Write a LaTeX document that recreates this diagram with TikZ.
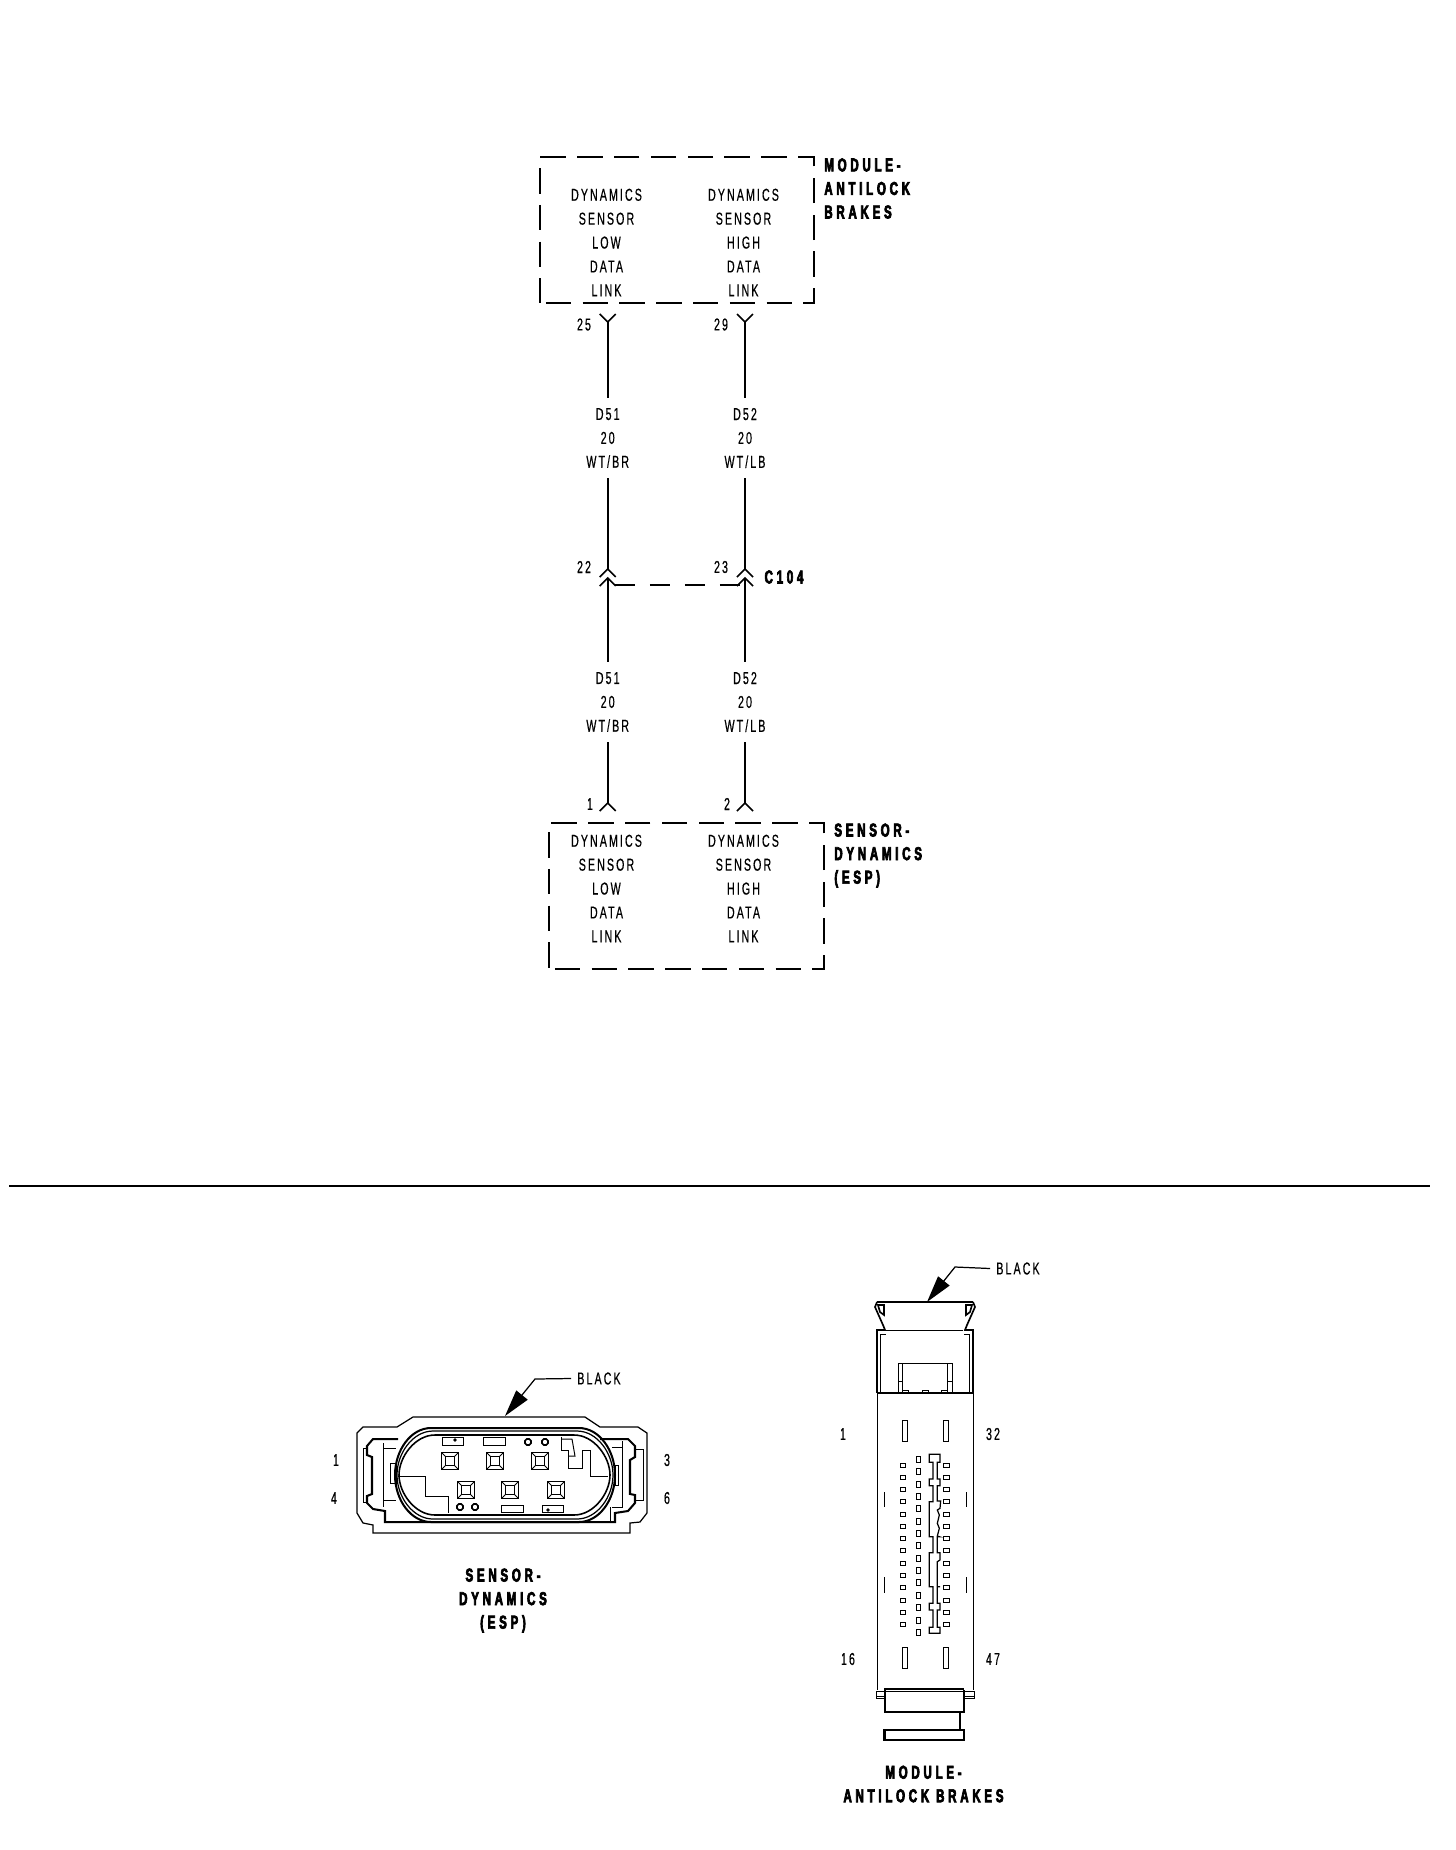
\documentclass[tikz,border=0pt]{standalone}
\usepackage{fontspec}
\usetikzlibrary{arrows.meta}
\newfontfamily\wirefont[FakeStretch=.62,LetterSpace=12,FakeBold=.5]{Liberation Sans}
\newfontfamily\tagfont[FakeStretch=.62,LetterSpace=20,BoldFeatures={FakeBold=3.5}]{Liberation Sans}

\tikzset{
  wire/.style={line width=.95pt},
  thinline/.style={line width=.55pt},
  thickline/.style={line width=1.15pt},
  txt/.style={inner sep=0pt,align=center,font=\wirefont\fontsize{9.8}{13.6}\selectfont},
  wirelabel/.style={txt,minimum height=1.6cm},
  tag/.style={inner sep=0pt,align=left,font=\tagfont\bfseries\fontsize{10.6}{13.4}\selectfont},
  modbox/.style={draw,line width=1.5pt,inner sep=0pt,dash pattern=on .51cm off .226cm,dash phase=.62cm},
  leader/.style={line width=.7pt,-{Triangle[length=.54cm,width=.29cm]}}
}

\begin{document}
\begin{tikzpicture}
  [x=.02cm,y=-.02cm]
  \useasboundingbox (0,0) rectangle (1456,1850);

  \node[modbox,minimum width=5.48cm,minimum height=2.92cm] (abs) at (677,230) {};
  \node[modbox,minimum width=5.5cm,minimum height=2.92cm] (esp) at (686.5,896) {};
  \node[tag,anchor=west] (abstag) at (824,188.5) {MODULE-\\ANTILOCK\\BRAKES};
  \node[tag,anchor=west] (esptag) at (834,855.5) {SENSOR-\\DYNAMICS\\(ESP)};

  \node[txt] (abslow) at (606.5,242.5) {DYNAMICS\\SENSOR\\LOW\\DATA\\LINK};
  \node[txt] (abshigh) at (743.5,242.5) {DYNAMICS\\SENSOR\\HIGH\\DATA\\LINK};
  \node[txt] (esplow) at (606.5,888.5) {DYNAMICS\\SENSOR\\LOW\\DATA\\LINK};
  \node[txt] (esphigh) at (743.5,888.5) {DYNAMICS\\SENSOR\\HIGH\\DATA\\LINK};

  \node[wirelabel] (d51a) at (607.7,438) {D51\\20\\WT/BR};
  \node[wirelabel] (d52a) at (745,438) {D52\\20\\WT/LB};
  \node[wirelabel] (d51b) at (607.7,702) {D51\\20\\WT/BR};
  \node[wirelabel] (d52b) at (745,702) {D52\\20\\WT/LB};

  \coordinate (p25) at (607.7,322);
  \coordinate (p29) at (745,322);
  \coordinate (p22a) at (607.7,569);
  \coordinate (p23a) at (745,569);
  \coordinate (p22b) at (607.7,578);
  \coordinate (p23b) at (745,578);
  \coordinate (p1) at (607.7,803);
  \coordinate (p2) at (745,803);
  \coordinate (cl) at (615,585);
  \coordinate (cr) at (745,585);

  \foreach \from/\to in {p25/d51a.north,p29/d52a.north,d51a.south/p22a,d52a.south/p23a,
    p22b/d51b.north,p23b/d52b.north,d51b.south/p1,d52b.south/p2}
    \draw[wire] (\from) -- (\to);
  \foreach \p in {p25,p29}
    \draw[wire] (\p) ++(-8,-8) -- (\p) -- ++(8,-8);
  \foreach \p in {p22a,p23a,p22b,p23b,p1,p2}
    \draw[wire] (\p) ++(-8,8) -- (\p) -- ++(8,8);
  \draw[wire,dash pattern=on .4cm off .3cm] (cl) -- (cr);

  \node[txt] (n25) at (584,324.5) {25};
  \node[txt] (n29) at (721,324.5) {29};
  \node[txt] (n22) at (584,567) {22};
  \node[txt] (n23) at (721,567) {23};
  \node[txt] (n1) at (590,804) {1};
  \node[txt] (n2) at (727,804) {2};
  \node[tag] (c104) at (784,577) {C104};

  \coordinate (rl) at (9,1186);
  \coordinate (rr) at (1430,1186);
  \draw[line width=1.15pt] (rl) -- (rr);

  % sensor connector
  \node[txt] (blacka) at (599,1378.5) {BLACK};
  \coordinate (benda) at (535,1379);
  \coordinate (tipa) at (505,1416);
  \draw[leader] (blacka.west) ++(-6,0) -- (benda) -- (tipa);
  \node[txt] (s1) at (336,1460) {1};
  \node[txt] (s4) at (334,1498) {4};
  \node[txt] (s3) at (667,1460) {3};
  \node[txt] (s6) at (667,1498) {6};
  \node[tag,align=center] (esphead) at (503,1600.5) {SENSOR-\\DYNAMICS\\(ESP)};

  \draw[thinline,line width=.7pt] (373,1533) -- (373,1525) -- (363,1523) -- (357,1513) -- (357,1433)
    -- (363,1427) -- (397,1427) -- (413,1417) -- (585,1417) -- (600,1427) -- (638,1427) -- (647,1433)
    -- (647,1513) -- (640,1522) -- (630,1523) -- (630,1533) -- cycle;
  \draw[thickline] (398,1439) -- (373,1439) -- (367,1446) -- (367,1455) -- (372,1457) -- (372,1494)
    -- (367,1496) -- (367,1503) -- (373,1509) -- (385,1511) -- (385,1522) -- (615,1522) -- (615,1513)
    -- (628,1511) -- (635,1503) -- (635,1495) -- (630,1494) -- (630,1460) -- (635,1457) -- (635,1446)
    -- (628,1439) -- (600,1439);
  \foreach \L/\R/\T/\B/\w in {395/615/1428/1522/1.15pt,397/613/1431/1519/.7pt,399/610/1435/1515/.9pt}
    \draw[line width=\w] (\L+36,\T) -- (\R-36,\T) .. controls (\R-16,\T) and (\R,\T+22) .. (\R,{(\T+\B)/2})
      .. controls (\R,\B-22) and (\R-16,\B) .. (\R-36,\B) -- (\L+36,\B)
      .. controls (\L+16,\B) and (\L,\B-22) .. (\L,{(\T+\B)/2})
      .. controls (\L,\T+22) and (\L+16,\T) .. (\L+36,\T);
  \foreach \x/\y in {450/1461,495/1461,540/1461,466/1490,510/1490,556/1490} {
    \draw[thinline] (\x-8.5,\y-8.5) rectangle (\x+8.5,\y+8.5);
    \draw[wire] (\x-4.5,\y-4.5) rectangle (\x+4.5,\y+4.5);
    \foreach \a/\b in {-1/-1,1/-1,1/1,-1/1}
      \draw[thinline] (\x+\a*4.5,\y+\b*4.5) -- (\x+\a*8.5,\y+\b*8.5);
  }
  \foreach \l/\r/\t/\b in {442/463/1437/1445,483/505/1437/1445,501/523/1505/1512,542/563/1505/1512}
    \draw[thinline] (\l,\t) rectangle (\r,\b);
  \foreach \x/\y in {528/1442,545/1442,460/1507,475/1507}
    \draw[wire,rounded corners=1pt] (\x-3,\y-3) rectangle (\x+3,\y+3);
  \fill (455,1440) circle (1.8);
  \fill (548,1510) circle (1.8);
  \draw[thinline] (398,1476) -- (425,1476) -- (425,1496) -- (448,1496) -- (448,1513);
  \draw[thinline] (561,1437) -- (561,1450) -- (568,1450) -- (568,1468) -- (582,1468) -- (582,1450)
    -- (590,1450) -- (590,1476) -- (608,1476);
  \draw[thinline] (561,1439) -- (572,1439) -- (575,1456) -- (568,1456);
  \draw[thinline] (383,1443) -- (383,1507);
  \draw[thinline] (383,1448) -- (396,1448);
  \draw[thinline] (383,1500) -- (396,1500);
  \draw[thinline] (396,1463) rectangle (390,1483);
  \draw[thinline] (367,1448) -- (363,1448) -- (363,1502) -- (367,1502);
  \draw[thinline] (610,1507) -- (610,1522);
  \draw[thinline] (612,1447) -- (622,1447);
  \draw[thinline] (612,1507) -- (623,1507);
  \draw[thinline] (622,1441) -- (622,1507);
  \draw[thinline] (615,1465) rectangle (618,1485);
  \draw[thinline] (635,1449) -- (643,1449) -- (643,1500) -- (635,1500);

  % module connector
  \node[txt] (blackb) at (1018,1268.5) {BLACK};
  \coordinate (bendb) at (955,1267);
  \coordinate (tipb) at (927,1302);
  \draw[leader] (blackb.west) ++(-6,0) -- (bendb) -- (tipb);
  \node[txt] (m1) at (843,1434) {1};
  \node[txt] (m32) at (993,1434) {32};
  \node[txt] (m16) at (848,1659) {16};
  \node[txt] (m47) at (993,1659) {47};
  \node[tag,align=center] (abshead) at (923.5,1784) {MODULE-\\ANTILOCK BRAKES};

  \draw[thickline] (877,1302) -- (973,1302);
  \draw[thinline] (885,1330) -- (963,1330);
  \foreach \s in {1,-1} {
    \begin{scope}[shift={(925,0)},xscale=\s]
      \draw[wire] (-48,1302) -- (-50,1307) -- (-42,1325) -- (-40,1330) -- (-48,1330) -- (-48,1334);
      \draw[wire] (-47,1305) -- (-41,1305) -- (-41,1315) -- (-45,1312) -- cycle;
      \draw[wire] (-48,1334) -- (-48,1393);
      \draw[thinline] (-44.5,1334) -- (-44.5,1393);
      \draw[thinline] (-44.5,1334) -- (-39,1334);
      \draw[thinline] (-27,1363) -- (-27,1393);
      \draw[thinline] (-22.5,1363) -- (-22.5,1393);
      \draw[thinline] (-27,1381) -- (-22.5,1381);
      \draw[thinline] (-23,1420.7) rectangle (-18,1441.3);
      \draw[thinline] (-23,1647.3) rectangle (-18,1668.3);
      \draw[thinline] (-41,1492.3) -- (-41,1506.7);
      \draw[thinline] (-41,1577.3) -- (-41,1592.7);
      \draw[thinline] (-49,1691) -- (-49,1698.3) -- (-40,1698.3);
      \draw[thinline] (-49,1696) -- (-40,1696);
      \draw[thinline] (-49,1691) -- (-40,1691);
    \end{scope}
  }
  \draw[wire] (877.5,1393.3) -- (973.5,1393.3) -- (973.5,1690);
  \draw[wire] (877.5,1393.3) -- (877.5,1690);
  \draw[thinline] (898.3,1363) -- (951.7,1363);
  \draw[thinline] (902.3,1390) -- (908,1390) -- (908,1393) (922,1393) -- (922,1390) -- (928,1390) -- (928,1393)
    (941,1393) -- (941,1390) -- (947.3,1390);
  \foreach \i in {0,...,13} {
    \draw[thinline] (900.2,1465+12.28*\i-2) rectangle (905.2,1465+12.28*\i+2);
    \draw[thinline] (943,1465+12.28*\i-2) rectangle (949,1465+12.28*\i+2);
  }
  \foreach \i in {0,...,14}
    \draw[thinline] (916,1459.3+12.36*\i-3) rectangle (920,1459.3+12.36*\i+3);
  \begin{scope}[shift={(860,1420)},x=.00667cm,y=-.00667cm]
    \draw[thinline,line width=.7pt] (208,103) -- (240,103) -- (240,127) -- (232,127) -- (232,177) -- (240,177)
      -- (240,197) -- (232,197) -- (232,243) -- (242,243) -- (240,265) -- (232,270) -- (238,285) -- (232,310)
      -- (238,325) -- (232,348) -- (238,350) -- (232,350) -- (232,398) -- (240,398) -- (240,420) -- (232,425)
      -- (232,500) -- (240,500) -- (232,500) -- (232,550) -- (240,550) -- (240,570) -- (232,570) -- (232,622)
      -- (240,622) -- (240,640) -- (208,640) -- (208,622) -- (219,622) -- (219,570) -- (208,570) -- (208,550)
      -- (219,550) -- (219,500) -- (208,500) -- (208,398) -- (219,398) -- (219,350) -- (208,350) -- (208,245)
      -- (219,245) -- (219,197) -- (208,197) -- (208,177) -- (219,177) -- (219,127) -- (208,127) -- cycle;
  \end{scope}
  \draw[wire] (884,1689.3) -- (964.3,1689.3);
  \draw[thinline] (884,1691) -- (964.3,1691);
  \draw[wire] (885,1690) -- (885,1712.3) -- (964.3,1712.3) -- (964.3,1690);
  \draw[thinline] (884,1712.3) -- (885,1712.3);
  \draw[wire] (960,1712.3) -- (960,1730);
  \draw[wire] (884,1730) rectangle (964.3,1740.3);
  \draw[thinline] (885,1730) -- (885,1740.3);
\end{tikzpicture}
\end{document}
